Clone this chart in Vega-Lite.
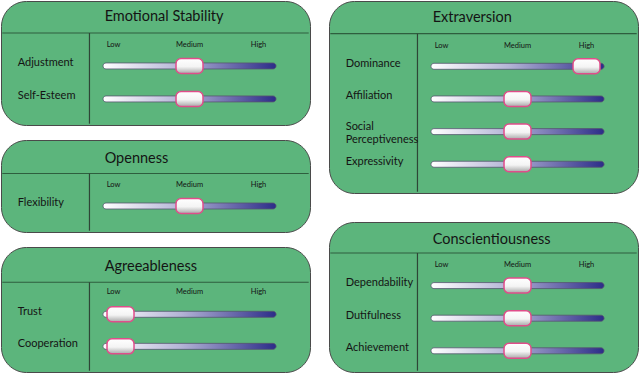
{
  "$schema": "https://vega.github.io/schema/vega-lite/v6.json",
  "padding": {"left": 0, "top": 0, "right": 0, "bottom": 0},
  "background": "white",
  "config": {
    "view": {"fill": "#5cb57c", "stroke": "#4a4a4a", "strokeWidth": 1, "cornerRadius": 25},
    "text": {"font": "Lato", "color": "#141414"}
  },
  "datasets": {
    "traits": [
      {"panel": "Emotional Stability", "facet": "Adjustment", "row": 1, "level": 1},
      {"panel": "Emotional Stability", "facet": "Self-Esteem", "row": 2, "level": 1},
      {"panel": "Openness", "facet": "Flexibility", "row": 1, "level": 1},
      {"panel": "Agreeableness", "facet": "Trust", "row": 1, "level": 0},
      {"panel": "Agreeableness", "facet": "Cooperation", "row": 2, "level": 0},
      {"panel": "Extraversion", "facet": "Dominance", "row": 1, "level": 2},
      {"panel": "Extraversion", "facet": "Affiliation", "row": 2, "level": 1},
      {"panel": "Extraversion", "facet": "Social Perceptiveness", "row": 3, "level": 1},
      {"panel": "Extraversion", "facet": "Expressivity", "row": 4, "level": 1},
      {"panel": "Conscientiousness", "facet": "Dependability", "row": 1, "level": 1},
      {"panel": "Conscientiousness", "facet": "Dutifulness", "row": 2, "level": 1},
      {"panel": "Conscientiousness", "facet": "Achievement", "row": 3, "level": 1}
    ],
    "levels": [
      {"level": 0, "label": "Low"},
      {"level": 1, "label": "Medium"},
      {"level": 2, "label": "High"}
    ]
  },
  "spacing": 17,
  "hconcat": [
    {
      "spacing": 15,
      "bounds": "flush",
      "vconcat": [
        {
          "width": 309, "height": 124,
          "data": {"name": "traits"},
          "transform": [{"filter": "datum.panel === 'Emotional Stability'"}],
          "layer": [
            {"transform": [{"filter": "datum.row === 1"}], "mark": {"type": "text", "align": "left", "baseline": "middle", "fontSize": 14.5}, "encoding": {"x": {"datum": -0.23, "type": "quantitative", "scale": {"domain": [-1.732, 2.746], "nice": false, "zero": false}, "axis": null}, "y": {"datum": -0.47, "type": "quantitative", "scale": {"domain": [-0.97, 2.79], "reverse": true, "nice": false, "zero": false}, "axis": null}, "text": {"field": "panel"}}},
            {"transform": [{"filter": "datum.row === 1"}], "mark": {"type": "rule", "color": "#2e5e3e", "strokeWidth": 1.2}, "encoding": {"x": {"datum": -1.713, "type": "quantitative", "scale": {"domain": [-1.732, 2.746], "nice": false, "zero": false}, "axis": null}, "x2": {"datum": 2.727}, "y": {"datum": 0, "type": "quantitative", "scale": {"domain": [-0.97, 2.79], "reverse": true, "nice": false, "zero": false}, "axis": null}}},
            {"transform": [{"filter": "datum.row === 1"}], "mark": {"type": "rule", "color": "#2e4636", "strokeWidth": 1.2}, "encoding": {"x": {"datum": -0.45, "type": "quantitative", "scale": {"domain": [-1.732, 2.746], "nice": false, "zero": false}, "axis": null}, "y": {"datum": 0, "type": "quantitative", "scale": {"domain": [-0.97, 2.79], "reverse": true, "nice": false, "zero": false}, "axis": null}, "y2": {"datum": 2.75}}},
            {"data": {"name": "levels"}, "mark": {"type": "text", "fontSize": 7.5, "baseline": "middle", "dx": {"expr": "datum.level === 0 ? -7 : 0"}}, "encoding": {"x": {"field": "level", "type": "quantitative", "scale": {"domain": [-1.732, 2.746], "nice": false, "zero": false}, "axis": null}, "y": {"datum": 0.36, "type": "quantitative", "scale": {"domain": [-0.97, 2.79], "reverse": true, "nice": false, "zero": false}, "axis": null}, "text": {"field": "label"}}},
            {"mark": {"type": "text", "align": "left", "baseline": "middle", "fontSize": 11, "dy": {"expr": "indexof(datum.facet, ' ') > 0 ? -4.5 : -2.5"}, "lineBreak": " ", "lineHeight": 13}, "encoding": {"x": {"datum": -1.49, "type": "quantitative", "scale": {"domain": [-1.732, 2.746], "nice": false, "zero": false}, "axis": null}, "y": {"field": "row", "type": "quantitative", "scale": {"domain": [-0.97, 2.79], "reverse": true, "nice": false, "zero": false}, "axis": null}, "text": {"field": "facet"}}},
            {"mark": {"type": "rect", "height": 6, "cornerRadius": 3, "stroke": "#55556e", "strokeWidth": 0.8, "fill": {"gradient": "linear", "x1": 0, "y1": 0, "x2": 1, "y2": 0, "stops": [{"offset": 0, "color": "#ffffff"}, {"offset": 0.45, "color": "#b4b4d6"}, {"offset": 1, "color": "#2c2c88"}]}}, "encoding": {"x": {"datum": -0.254, "type": "quantitative", "scale": {"domain": [-1.732, 2.746], "nice": false, "zero": false}, "axis": null}, "x2": {"datum": 2.254}, "y": {"field": "row", "type": "quantitative", "scale": {"domain": [-0.97, 2.79], "reverse": true, "nice": false, "zero": false}, "axis": null}}},
            {"mark": {"type": "rect", "width": 27, "height": 15, "cornerRadius": 5, "stroke": "#e04d8a", "strokeWidth": 1.5, "fill": {"gradient": "linear", "x1": 0, "y1": 0, "x2": 0, "y2": 1, "stops": [{"offset": 0, "color": "#ffffff"}, {"offset": 0.55, "color": "#f4f4f4"}, {"offset": 1, "color": "#a9a9a9"}]}}, "encoding": {"x": {"field": "level", "type": "quantitative", "scale": {"domain": [-1.732, 2.746], "nice": false, "zero": false}, "axis": null}, "y": {"field": "row", "type": "quantitative", "scale": {"domain": [-0.97, 2.79], "reverse": true, "nice": false, "zero": false}, "axis": null}}}
          ]
        },
        {
          "width": 309, "height": 92,
          "data": {"name": "traits"},
          "transform": [{"filter": "datum.panel === 'Openness'"}],
          "layer": [
            {"transform": [{"filter": "datum.row === 1"}], "mark": {"type": "text", "align": "left", "baseline": "middle", "fontSize": 14.5}, "encoding": {"x": {"datum": -0.23, "type": "quantitative", "scale": {"domain": [-1.732, 2.746], "nice": false, "zero": false}, "axis": null}, "y": {"datum": -0.445, "type": "quantitative", "scale": {"domain": [-1.03, 1.8], "reverse": true, "nice": false, "zero": false}, "axis": null}, "text": {"field": "panel"}}},
            {"transform": [{"filter": "datum.row === 1"}], "mark": {"type": "rule", "color": "#2e5e3e", "strokeWidth": 1.2}, "encoding": {"x": {"datum": -1.713, "type": "quantitative", "scale": {"domain": [-1.732, 2.746], "nice": false, "zero": false}, "axis": null}, "x2": {"datum": 2.727}, "y": {"datum": 0, "type": "quantitative", "scale": {"domain": [-1.03, 1.8], "reverse": true, "nice": false, "zero": false}, "axis": null}}},
            {"transform": [{"filter": "datum.row === 1"}], "mark": {"type": "rule", "color": "#2e4636", "strokeWidth": 1.2}, "encoding": {"x": {"datum": -0.45, "type": "quantitative", "scale": {"domain": [-1.732, 2.746], "nice": false, "zero": false}, "axis": null}, "y": {"datum": 0, "type": "quantitative", "scale": {"domain": [-1.03, 1.8], "reverse": true, "nice": false, "zero": false}, "axis": null}, "y2": {"datum": 1.76}}},
            {"data": {"name": "levels"}, "mark": {"type": "text", "fontSize": 7.5, "baseline": "middle", "dx": {"expr": "datum.level === 0 ? -7 : 0"}}, "encoding": {"x": {"field": "level", "type": "quantitative", "scale": {"domain": [-1.732, 2.746], "nice": false, "zero": false}, "axis": null}, "y": {"datum": 0.35, "type": "quantitative", "scale": {"domain": [-1.03, 1.8], "reverse": true, "nice": false, "zero": false}, "axis": null}, "text": {"field": "label"}}},
            {"mark": {"type": "text", "align": "left", "baseline": "middle", "fontSize": 11, "dy": {"expr": "indexof(datum.facet, ' ') > 0 ? -4.5 : -2.5"}, "lineBreak": " ", "lineHeight": 13}, "encoding": {"x": {"datum": -1.49, "type": "quantitative", "scale": {"domain": [-1.732, 2.746], "nice": false, "zero": false}, "axis": null}, "y": {"field": "row", "type": "quantitative", "scale": {"domain": [-1.03, 1.8], "reverse": true, "nice": false, "zero": false}, "axis": null}, "text": {"field": "facet"}}},
            {"mark": {"type": "rect", "height": 6, "cornerRadius": 3, "stroke": "#55556e", "strokeWidth": 0.8, "fill": {"gradient": "linear", "x1": 0, "y1": 0, "x2": 1, "y2": 0, "stops": [{"offset": 0, "color": "#ffffff"}, {"offset": 0.45, "color": "#b4b4d6"}, {"offset": 1, "color": "#2c2c88"}]}}, "encoding": {"x": {"datum": -0.254, "type": "quantitative", "scale": {"domain": [-1.732, 2.746], "nice": false, "zero": false}, "axis": null}, "x2": {"datum": 2.254}, "y": {"field": "row", "type": "quantitative", "scale": {"domain": [-1.03, 1.8], "reverse": true, "nice": false, "zero": false}, "axis": null}}},
            {"mark": {"type": "rect", "width": 27, "height": 15, "cornerRadius": 5, "stroke": "#e04d8a", "strokeWidth": 1.5, "fill": {"gradient": "linear", "x1": 0, "y1": 0, "x2": 0, "y2": 1, "stops": [{"offset": 0, "color": "#ffffff"}, {"offset": 0.55, "color": "#f4f4f4"}, {"offset": 1, "color": "#a9a9a9"}]}}, "encoding": {"x": {"field": "level", "type": "quantitative", "scale": {"domain": [-1.732, 2.746], "nice": false, "zero": false}, "axis": null}, "y": {"field": "row", "type": "quantitative", "scale": {"domain": [-1.03, 1.8], "reverse": true, "nice": false, "zero": false}, "axis": null}}}
          ]
        },
        {
          "width": 309, "height": 125,
          "data": {"name": "traits"},
          "transform": [{"filter": "datum.panel === 'Agreeableness'"}],
          "layer": [
            {"transform": [{"filter": "datum.row === 1"}], "mark": {"type": "text", "align": "left", "baseline": "middle", "fontSize": 14.5}, "encoding": {"x": {"datum": -0.23, "type": "quantitative", "scale": {"domain": [-1.732, 2.746], "nice": false, "zero": false}, "axis": null}, "y": {"datum": -0.476, "type": "quantitative", "scale": {"domain": [-1.1, 2.8], "reverse": true, "nice": false, "zero": false}, "axis": null}, "text": {"field": "panel"}}},
            {"transform": [{"filter": "datum.row === 1"}], "mark": {"type": "rule", "color": "#2e5e3e", "strokeWidth": 1.2}, "encoding": {"x": {"datum": -1.713, "type": "quantitative", "scale": {"domain": [-1.732, 2.746], "nice": false, "zero": false}, "axis": null}, "x2": {"datum": 2.727}, "y": {"datum": 0, "type": "quantitative", "scale": {"domain": [-1.1, 2.8], "reverse": true, "nice": false, "zero": false}, "axis": null}}},
            {"transform": [{"filter": "datum.row === 1"}], "mark": {"type": "rule", "color": "#2e4636", "strokeWidth": 1.2}, "encoding": {"x": {"datum": -0.45, "type": "quantitative", "scale": {"domain": [-1.732, 2.746], "nice": false, "zero": false}, "axis": null}, "y": {"datum": 0, "type": "quantitative", "scale": {"domain": [-1.1, 2.8], "reverse": true, "nice": false, "zero": false}, "axis": null}, "y2": {"datum": 2.76}}},
            {"data": {"name": "levels"}, "mark": {"type": "text", "fontSize": 7.5, "baseline": "middle", "dx": {"expr": "datum.level === 0 ? -7 : 0"}}, "encoding": {"x": {"field": "level", "type": "quantitative", "scale": {"domain": [-1.732, 2.746], "nice": false, "zero": false}, "axis": null}, "y": {"datum": 0.3, "type": "quantitative", "scale": {"domain": [-1.1, 2.8], "reverse": true, "nice": false, "zero": false}, "axis": null}, "text": {"field": "label"}}},
            {"mark": {"type": "text", "align": "left", "baseline": "middle", "fontSize": 11, "dy": {"expr": "indexof(datum.facet, ' ') > 0 ? -4.5 : -2.5"}, "lineBreak": " ", "lineHeight": 13}, "encoding": {"x": {"datum": -1.49, "type": "quantitative", "scale": {"domain": [-1.732, 2.746], "nice": false, "zero": false}, "axis": null}, "y": {"field": "row", "type": "quantitative", "scale": {"domain": [-1.1, 2.8], "reverse": true, "nice": false, "zero": false}, "axis": null}, "text": {"field": "facet"}}},
            {"mark": {"type": "rect", "height": 6, "cornerRadius": 3, "stroke": "#55556e", "strokeWidth": 0.8, "fill": {"gradient": "linear", "x1": 0, "y1": 0, "x2": 1, "y2": 0, "stops": [{"offset": 0, "color": "#ffffff"}, {"offset": 0.45, "color": "#b4b4d6"}, {"offset": 1, "color": "#2c2c88"}]}}, "encoding": {"x": {"datum": -0.254, "type": "quantitative", "scale": {"domain": [-1.732, 2.746], "nice": false, "zero": false}, "axis": null}, "x2": {"datum": 2.254}, "y": {"field": "row", "type": "quantitative", "scale": {"domain": [-1.1, 2.8], "reverse": true, "nice": false, "zero": false}, "axis": null}}},
            {"mark": {"type": "rect", "width": 27, "height": 15, "cornerRadius": 5, "stroke": "#e04d8a", "strokeWidth": 1.5, "fill": {"gradient": "linear", "x1": 0, "y1": 0, "x2": 0, "y2": 1, "stops": [{"offset": 0, "color": "#ffffff"}, {"offset": 0.55, "color": "#f4f4f4"}, {"offset": 1, "color": "#a9a9a9"}]}}, "encoding": {"x": {"field": "level", "type": "quantitative", "scale": {"domain": [-1.732, 2.746], "nice": false, "zero": false}, "axis": null}, "y": {"field": "row", "type": "quantitative", "scale": {"domain": [-1.1, 2.8], "reverse": true, "nice": false, "zero": false}, "axis": null}}}
          ]
        }
      ]
    },
    {
      "spacing": 29,
      "bounds": "flush",
      "vconcat": [
        {
          "width": 309, "height": 192,
          "data": {"name": "traits"},
          "transform": [{"filter": "datum.panel === 'Extraversion'"}],
          "layer": [
            {"transform": [{"filter": "datum.row === 1"}], "mark": {"type": "text", "align": "left", "baseline": "middle", "fontSize": 14.5}, "encoding": {"x": {"datum": -0.23, "type": "quantitative", "scale": {"domain": [-1.732, 2.746], "nice": false, "zero": false}, "axis": null}, "y": {"datum": -0.48, "type": "quantitative", "scale": {"domain": [-1.0, 4.88], "reverse": true, "nice": false, "zero": false}, "axis": null}, "text": {"field": "panel"}}},
            {"transform": [{"filter": "datum.row === 1"}], "mark": {"type": "rule", "color": "#2e5e3e", "strokeWidth": 1.2}, "encoding": {"x": {"datum": -1.713, "type": "quantitative", "scale": {"domain": [-1.732, 2.746], "nice": false, "zero": false}, "axis": null}, "x2": {"datum": 2.727}, "y": {"datum": 0, "type": "quantitative", "scale": {"domain": [-1.0, 4.88], "reverse": true, "nice": false, "zero": false}, "axis": null}}},
            {"transform": [{"filter": "datum.row === 1"}], "mark": {"type": "rule", "color": "#2e4636", "strokeWidth": 1.2}, "encoding": {"x": {"datum": -0.45, "type": "quantitative", "scale": {"domain": [-1.732, 2.746], "nice": false, "zero": false}, "axis": null}, "y": {"datum": 0, "type": "quantitative", "scale": {"domain": [-1.0, 4.88], "reverse": true, "nice": false, "zero": false}, "axis": null}, "y2": {"datum": 4.84}}},
            {"data": {"name": "levels"}, "mark": {"type": "text", "fontSize": 7.5, "baseline": "middle", "dx": {"expr": "datum.level === 0 ? -7 : 0"}}, "encoding": {"x": {"field": "level", "type": "quantitative", "scale": {"domain": [-1.732, 2.746], "nice": false, "zero": false}, "axis": null}, "y": {"datum": 0.38, "type": "quantitative", "scale": {"domain": [-1.0, 4.88], "reverse": true, "nice": false, "zero": false}, "axis": null}, "text": {"field": "label"}}},
            {"mark": {"type": "text", "align": "left", "baseline": "middle", "fontSize": 11, "dy": {"expr": "indexof(datum.facet, ' ') > 0 ? -4.5 : -2.5"}, "lineBreak": " ", "lineHeight": 13}, "encoding": {"x": {"datum": -1.49, "type": "quantitative", "scale": {"domain": [-1.732, 2.746], "nice": false, "zero": false}, "axis": null}, "y": {"field": "row", "type": "quantitative", "scale": {"domain": [-1.0, 4.88], "reverse": true, "nice": false, "zero": false}, "axis": null}, "text": {"field": "facet"}}},
            {"mark": {"type": "rect", "height": 6, "cornerRadius": 3, "stroke": "#55556e", "strokeWidth": 0.8, "fill": {"gradient": "linear", "x1": 0, "y1": 0, "x2": 1, "y2": 0, "stops": [{"offset": 0, "color": "#ffffff"}, {"offset": 0.45, "color": "#b4b4d6"}, {"offset": 1, "color": "#2c2c88"}]}}, "encoding": {"x": {"datum": -0.254, "type": "quantitative", "scale": {"domain": [-1.732, 2.746], "nice": false, "zero": false}, "axis": null}, "x2": {"datum": 2.254}, "y": {"field": "row", "type": "quantitative", "scale": {"domain": [-1.0, 4.88], "reverse": true, "nice": false, "zero": false}, "axis": null}}},
            {"mark": {"type": "rect", "width": 27, "height": 15, "cornerRadius": 5, "stroke": "#e04d8a", "strokeWidth": 1.5, "fill": {"gradient": "linear", "x1": 0, "y1": 0, "x2": 0, "y2": 1, "stops": [{"offset": 0, "color": "#ffffff"}, {"offset": 0.55, "color": "#f4f4f4"}, {"offset": 1, "color": "#a9a9a9"}]}}, "encoding": {"x": {"field": "level", "type": "quantitative", "scale": {"domain": [-1.732, 2.746], "nice": false, "zero": false}, "axis": null}, "y": {"field": "row", "type": "quantitative", "scale": {"domain": [-1.0, 4.88], "reverse": true, "nice": false, "zero": false}, "axis": null}}}
          ]
        },
        {
          "width": 309, "height": 150,
          "data": {"name": "traits"},
          "transform": [{"filter": "datum.panel === 'Conscientiousness'"}],
          "layer": [
            {"transform": [{"filter": "datum.row === 1"}], "mark": {"type": "text", "align": "left", "baseline": "middle", "fontSize": 14.5}, "encoding": {"x": {"datum": -0.23, "type": "quantitative", "scale": {"domain": [-1.732, 2.746], "nice": false, "zero": false}, "axis": null}, "y": {"datum": -0.4, "type": "quantitative", "scale": {"domain": [-0.95, 3.65], "reverse": true, "nice": false, "zero": false}, "axis": null}, "text": {"field": "panel"}}},
            {"transform": [{"filter": "datum.row === 1"}], "mark": {"type": "rule", "color": "#2e5e3e", "strokeWidth": 1.2}, "encoding": {"x": {"datum": -1.713, "type": "quantitative", "scale": {"domain": [-1.732, 2.746], "nice": false, "zero": false}, "axis": null}, "x2": {"datum": 2.727}, "y": {"datum": 0, "type": "quantitative", "scale": {"domain": [-0.95, 3.65], "reverse": true, "nice": false, "zero": false}, "axis": null}}},
            {"transform": [{"filter": "datum.row === 1"}], "mark": {"type": "rule", "color": "#2e4636", "strokeWidth": 1.2}, "encoding": {"x": {"datum": -0.45, "type": "quantitative", "scale": {"domain": [-1.732, 2.746], "nice": false, "zero": false}, "axis": null}, "y": {"datum": 0, "type": "quantitative", "scale": {"domain": [-0.95, 3.65], "reverse": true, "nice": false, "zero": false}, "axis": null}, "y2": {"datum": 3.61}}},
            {"data": {"name": "levels"}, "mark": {"type": "text", "fontSize": 7.5, "baseline": "middle", "dx": {"expr": "datum.level === 0 ? -7 : 0"}}, "encoding": {"x": {"field": "level", "type": "quantitative", "scale": {"domain": [-1.732, 2.746], "nice": false, "zero": false}, "axis": null}, "y": {"datum": 0.37, "type": "quantitative", "scale": {"domain": [-0.95, 3.65], "reverse": true, "nice": false, "zero": false}, "axis": null}, "text": {"field": "label"}}},
            {"mark": {"type": "text", "align": "left", "baseline": "middle", "fontSize": 11, "dy": {"expr": "indexof(datum.facet, ' ') > 0 ? -4.5 : -2.5"}, "lineBreak": " ", "lineHeight": 13}, "encoding": {"x": {"datum": -1.49, "type": "quantitative", "scale": {"domain": [-1.732, 2.746], "nice": false, "zero": false}, "axis": null}, "y": {"field": "row", "type": "quantitative", "scale": {"domain": [-0.95, 3.65], "reverse": true, "nice": false, "zero": false}, "axis": null}, "text": {"field": "facet"}}},
            {"mark": {"type": "rect", "height": 6, "cornerRadius": 3, "stroke": "#55556e", "strokeWidth": 0.8, "fill": {"gradient": "linear", "x1": 0, "y1": 0, "x2": 1, "y2": 0, "stops": [{"offset": 0, "color": "#ffffff"}, {"offset": 0.45, "color": "#b4b4d6"}, {"offset": 1, "color": "#2c2c88"}]}}, "encoding": {"x": {"datum": -0.254, "type": "quantitative", "scale": {"domain": [-1.732, 2.746], "nice": false, "zero": false}, "axis": null}, "x2": {"datum": 2.254}, "y": {"field": "row", "type": "quantitative", "scale": {"domain": [-0.95, 3.65], "reverse": true, "nice": false, "zero": false}, "axis": null}}},
            {"mark": {"type": "rect", "width": 27, "height": 15, "cornerRadius": 5, "stroke": "#e04d8a", "strokeWidth": 1.5, "fill": {"gradient": "linear", "x1": 0, "y1": 0, "x2": 0, "y2": 1, "stops": [{"offset": 0, "color": "#ffffff"}, {"offset": 0.55, "color": "#f4f4f4"}, {"offset": 1, "color": "#a9a9a9"}]}}, "encoding": {"x": {"field": "level", "type": "quantitative", "scale": {"domain": [-1.732, 2.746], "nice": false, "zero": false}, "axis": null}, "y": {"field": "row", "type": "quantitative", "scale": {"domain": [-0.95, 3.65], "reverse": true, "nice": false, "zero": false}, "axis": null}}}
          ]
        }
      ]
    }
  ]
}
